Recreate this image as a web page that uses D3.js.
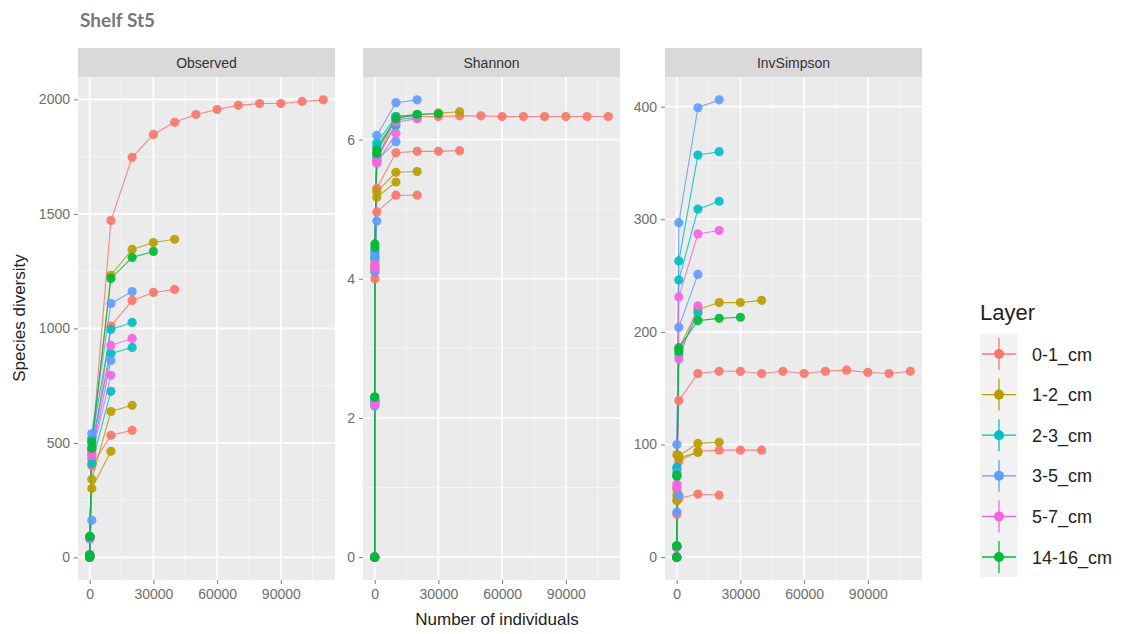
<!DOCTYPE html>
<html>
<head>
<meta charset="utf-8">
<script src="https://cdn.jsdelivr.net/npm/d3@7"></script>
<style>
  body { margin: 0; background: #fff; }
  svg { font-family: "Liberation Sans", Arial, sans-serif; }
</style>
</head>
<body>
<div id="chart"></div>
<script>
// rarefaction depths (number of individuals)
const depths = [1, 10, 100, 1000, 10000, 20000, 30000, 40000, 50000, 60000, 70000, 80000, 90000, 100000, 110000];
const layers = ["0-1_cm", "1-2_cm", "2-3_cm", "3-5_cm", "5-7_cm", "14-16_cm"];
const metrics = ["Observed", "Shannon", "InvSimpson"];

// one entry per sample, drawn in this order
const sampleLayer = ["0-1_cm", "0-1_cm", "0-1_cm", "1-2_cm", "1-2_cm", "1-2_cm",
  "2-3_cm", "2-3_cm", "2-3_cm", "3-5_cm", "3-5_cm", "3-5_cm", "5-7_cm", "5-7_cm",
  "14-16_cm", "14-16_cm"];

const observed = [
  [1, 10, 88, 470, 1471, 1747, 1847, 1900, 1934, 1956, 1974, 1982, 1982, 1991, 1998],
  [1, 10, 86, 430, 1010, 1122, 1157, 1170],
  [1, 10, 84, 400, 533, 555],
  [1, 10, 88, 480, 1232, 1345, 1375, 1389],
  [1, 10, 85, 341, 637, 664],
  [1, 10, 83, 301, 463],
  [1, 10, 89, 520, 995, 1026],
  [1, 10, 88, 500, 890, 917],
  [1, 10, 87, 410, 725],
  [1, 10, 90, 541, 1109, 1161],
  [1, 10, 88, 450, 860],
  [1, 10, 80, 162],
  [1, 10, 88, 460, 926, 956],
  [1, 10, 87, 445, 795],
  [1, 10, 92, 506, 1218, 1310, 1336],
  [1, 10, 90, 476]
];

const shannon = [
  [0, 2.25, 4.25, 5.7, 6.33, 6.33, 6.33, 6.34, 6.34, 6.33, 6.33, 6.33, 6.33, 6.33, 6.33],
  [0, 2.2, 4.1, 5.3, 5.81, 5.83, 5.83, 5.84],
  [0, 2.18, 4.0, 4.96, 5.2, 5.2],
  [0, 2.25, 4.3, 5.8, 6.33, 6.36, 6.38, 6.4],
  [0, 2.22, 4.2, 5.25, 5.53, 5.54],
  [0, 2.2, 4.15, 5.17, 5.39],
  [0, 2.25, 4.4, 5.95, 6.33, 6.36],
  [0, 2.25, 4.35, 5.9, 6.28, 6.32],
  [0, 2.24, 4.3, 5.75, 6.2],
  [0, 2.27, 4.4, 6.06, 6.53, 6.57],
  [0, 2.23, 4.3, 5.7, 5.97],
  [0, 2.17, 4.1, 4.83],
  [0, 2.2, 4.15, 5.7, 6.25, 6.3],
  [0, 2.2, 4.2, 5.66, 6.09],
  [0, 2.3, 4.5, 5.85, 6.3, 6.36, 6.37],
  [0, 2.3, 4.45, 5.8]
];

const invSimpson = [
  [0, 9, 60, 139, 163, 165, 165, 163, 165, 163, 165, 166, 164, 163, 165],
  [0, 9, 51, 85, 94, 95, 95, 95],
  [0, 9, 38, 52, 56, 55],
  [0, 9, 91, 185, 220, 226, 226, 228],
  [0, 9, 55, 90, 101, 102],
  [0, 9, 50, 88, 93],
  [0, 9, 80, 263, 357, 360],
  [0, 9, 78, 246, 309, 316],
  [0, 9, 72, 180, 217],
  [0, 9, 100, 297, 399, 406],
  [0, 9, 75, 204, 251],
  [0, 9, 40, 55],
  [0, 9, 62, 231, 287, 290],
  [0, 9, 65, 176, 223],
  [0, 10, 72, 186, 210, 212, 213],
  [0, 10, 73, 183]
];

const xTicks = [0, 30000, 60000, 90000];
const yTickStep = [500, 2, 100];

const layerColor = d3.scaleOrdinal()
  .domain(layers)
  .range(["#F8766D", "#B79F00", "#00BFC4", "#619CFF", "#F564E3", "#00BA38"]);

const values = [observed, shannon, invSimpson];

const W = 1134, H = 634;
const panelLeft = [78, 363, 665];
const panelW = 257;
const stripTop = 48, stripH = 29;
const plotTop = stripTop + stripH, plotBottom = 580;

const svg = d3.select("#chart").append("svg")
  .attr("width", W).attr("height", H);

function expand(ext) {
  const pad = (ext[1] - ext[0]) * 0.05;
  return [ext[0] - pad, ext[1] + pad];
}

const xscaleBase = d3.scaleLinear().domain(expand(d3.extent(depths)));

metrics.forEach(function(metric, m) {
  const x0 = panelLeft[m];
  const xscale = xscaleBase.copy().range([x0, x0 + panelW]);
  const allVals = values[m].flat();
  const yscale = d3.scaleLinear().domain(expand(d3.extent(allVals))).range([plotBottom, plotTop]);
  const ydom = yscale.domain();
  const step = yTickStep[m];
  const yTicks = d3.range(Math.ceil(ydom[0] / step) * step, ydom[1], step);
  const yMinor = d3.range(Math.ceil((ydom[0] - step / 2) / step) * step + step / 2, ydom[1], step)
    .filter(v => v > ydom[0]);
  const xdom = xscale.domain();
  const xMinor = d3.range(15000, xdom[1], 30000);

  const g = svg.append("g");

  // panel background
  g.append("rect")
    .attr("x", x0).attr("y", plotTop)
    .attr("width", panelW).attr("height", plotBottom - plotTop)
    .attr("fill", "#EBEBEB");

  // minor grid
  g.selectAll(".ymin").data(yMinor).enter().append("line")
    .attr("x1", x0).attr("x2", x0 + panelW)
    .attr("y1", d => yscale(d)).attr("y2", d => yscale(d))
    .attr("stroke", "#F7F7F7").attr("stroke-width", 0.8);
  g.selectAll(".xmin").data(xMinor).enter().append("line")
    .attr("y1", plotTop).attr("y2", plotBottom)
    .attr("x1", d => xscale(d)).attr("x2", d => xscale(d))
    .attr("stroke", "#F7F7F7").attr("stroke-width", 0.8);
  // major grid
  g.selectAll(".ymaj").data(yTicks).enter().append("line")
    .attr("x1", x0).attr("x2", x0 + panelW)
    .attr("y1", d => yscale(d)).attr("y2", d => yscale(d))
    .attr("stroke", "#FFFFFF").attr("stroke-width", 1.6);
  g.selectAll(".xmaj").data(xTicks).enter().append("line")
    .attr("y1", plotTop).attr("y2", plotBottom)
    .attr("x1", d => xscale(d)).attr("x2", d => xscale(d))
    .attr("stroke", "#FFFFFF").attr("stroke-width", 1.6);

  // strip
  g.append("rect")
    .attr("x", x0).attr("y", stripTop)
    .attr("width", panelW).attr("height", stripH)
    .attr("fill", "#D9D9D9");
  g.append("text")
    .attr("x", x0 + panelW / 2).attr("y", stripTop + stripH / 2 + 5)
    .attr("text-anchor", "middle")
    .attr("font-size", "14px").attr("fill", "#333")
    .text(metric);

  // axes
  const xAxis = d3.axisBottom(xscale).tickValues(xTicks).tickSize(4).tickPadding(5)
    .tickFormat(d3.format("d"));
  const yAxis = d3.axisLeft(yscale).tickValues(yTicks).tickSize(4).tickPadding(4)
    .tickFormat(d3.format("d"));
  const gx = g.append("g").attr("transform", `translate(0,${plotBottom})`).call(xAxis);
  const gy = g.append("g").attr("transform", `translate(${x0},0)`).call(yAxis);
  [gx, gy].forEach(function(a) {
    a.select(".domain").remove();
    a.selectAll(".tick line").attr("stroke", "#7a7a7a").attr("stroke-width", 1);
    a.selectAll(".tick text").attr("fill", "#6e6e6e").attr("font-size", "14px")
      .attr("font-family", "'Liberation Sans', Arial, sans-serif");
  });

  // lines then points
  const series = values[m].map((vals, i) => ({
    layer: sampleLayer[i],
    pts: vals.map((v, j) => [depths[j], v])
  }));
  const line = d3.line().x(d => xscale(d[0])).y(d => yscale(d[1]));

  g.selectAll(".ln").data(series).enter().append("path")
    .attr("d", d => line(d.pts))
    .attr("fill", "none")
    .attr("stroke", d => layerColor(d.layer))
    .attr("stroke-width", 1.1)
    .attr("opacity", 0.85);

  series.forEach(function(s) {
    g.selectAll(null).data(s.pts).enter().append("circle")
      .attr("cx", d => xscale(d[0]))
      .attr("cy", d => yscale(d[1]))
      .attr("r", 4.6)
      .attr("fill", layerColor(s.layer))
      .attr("opacity", 0.92);
  });
});

// title
svg.append("text")
  .attr("x", 80).attr("y", 27)
  .attr("font-family", "Lato, 'Open Sans', sans-serif")
  .attr("font-weight", "bold")
  .attr("font-size", "19px")
  .attr("fill", "#777")
  .text("Shelf St5");

// axis titles
svg.append("text")
  .attr("transform", "translate(25,318) rotate(-90)")
  .attr("text-anchor", "middle")
  .attr("font-size", "17px").attr("fill", "#222")
  .text("Species diversity");
svg.append("text")
  .attr("x", 497).attr("y", 625)
  .attr("text-anchor", "middle")
  .attr("font-size", "17px").attr("fill", "#222")
  .text("Number of individuals");

// legend
const legX = 980, legY0 = 354, legStep = 40.6;
svg.append("text")
  .attr("x", legX).attr("y", 320)
  .attr("font-size", "22px").attr("fill", "#222")
  .text("Layer");
const leg = svg.selectAll(".leg").data(layers).enter().append("g")
  .attr("transform", (d, i) => `translate(${legX},${legY0 + i * legStep})`);
leg.append("rect")
  .attr("x", 0).attr("y", -20.3).attr("width", 38).attr("height", legStep)
  .attr("fill", "#F2F2F2");
leg.append("line")
  .attr("x1", 2).attr("x2", 36).attr("y1", 0).attr("y2", 0)
  .attr("stroke", d => layerColor(d)).attr("stroke-width", 1.3);
leg.append("line")
  .attr("x1", 19).attr("x2", 19).attr("y1", -16).attr("y2", 16)
  .attr("stroke", d => layerColor(d)).attr("stroke-width", 1.3);
leg.append("circle")
  .attr("cx", 19).attr("cy", 0).attr("r", 5)
  .attr("fill", d => layerColor(d));
leg.append("text")
  .attr("x", 52).attr("y", 6.5)
  .attr("font-size", "18px").attr("fill", "#222")
  .text(d => d);
</script>
</body>
</html>
